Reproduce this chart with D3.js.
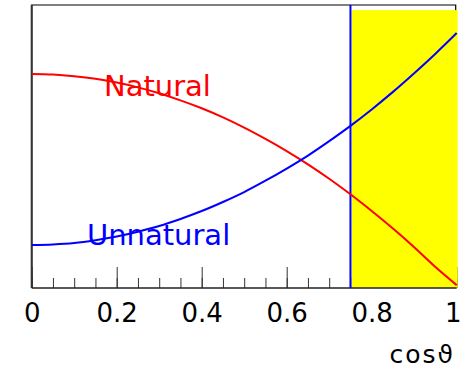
<!DOCTYPE html>
<html>
<head>
<meta charset="utf-8">
<script src="https://cdn.jsdelivr.net/npm/d3@7"></script>
<style>
    body { margin: 0; background: #fff; }
    svg { display: block; }
    text { font-family: "DejaVu Sans", sans-serif; }
</style>
</head>
<body>
<div id="chart"></div>
<script>
// cos(theta) sample points
let cosTheta = [0, 0.05, 0.1, 0.15, 0.2, 0.25, 0.3, 0.35, 0.4, 0.45, 0.5,
                0.55, 0.6, 0.65, 0.7, 0.75, 0.8, 0.85, 0.9, 0.95, 1.0];
// curves (arbitrary units)
let natural = [0.756, 0.754, 0.748, 0.739, 0.726, 0.709, 0.688, 0.663, 0.635, 0.603, 0.567,
               0.527, 0.484, 0.437, 0.386, 0.331, 0.272, 0.210, 0.144, 0.074, 0.010];
let unnatural = [0.152, 0.154, 0.159, 0.169, 0.182, 0.199, 0.219, 0.244, 0.272, 0.304, 0.339,
                 0.379, 0.422, 0.468, 0.519, 0.573, 0.631, 0.693, 0.759, 0.828, 0.901];
let majorTicks = [0, 0.2, 0.4, 0.6, 0.8, 1];
let minorTicks = d3.range(0, 21).map(i => i / 20);
let tickLabels = ['0', '0.2', '0.4', '0.6', '0.8', '1'];
let cutValue = 0.75;
let windowTop = 0.982;

let width = 463, height = 369;
let x = d3.scaleLinear().domain([0, 1]).range([31.7, 456.7]);
let y = d3.scaleLinear().domain([0, 1]).range([288, 5]);

let svg = d3.select('#chart').append('svg')
    .attr('width', width)
    .attr('height', height);

//frame top, left and right edges
svg.append('path')
    .attr('d', `M${x(0)},288V${y(1)}H${x(1) - 1}V${y(0)}`)
    .attr('fill', 'none')
    .attr('stroke', '#000')
    .attr('stroke-width', 1.2);
svg.append('line')
    .attr('x1', x(0)).attr('x2', x(0))
    .attr('y1', y(1)).attr('y2', y(0))
    .attr('stroke', '#333')
    .attr('stroke-width', 2);

//minor and major ticks, pointing inwards
let minorAxis = d3.axisBottom(x).tickValues(minorTicks).tickSize(-10).tickFormat('');
svg.append('g').attr('transform', `translate(0,${y(0)})`).call(minorAxis)
    .call(g => g.select('.domain').remove())
    .selectAll('line').attr('stroke', '#333');

let majorAxis = d3.axisBottom(x).tickValues(majorTicks).tickSize(-21).tickPadding(16)
    .tickFormat((d, i) => tickLabels[i]);
let axisG = svg.append('g').attr('transform', `translate(0,${y(0)})`).call(majorAxis);
axisG.select('.domain').remove();
axisG.selectAll('line').attr('stroke', '#333');
axisG.selectAll('text')
    .attr('font-size', 26)
    .attr('fill', '#000')
    .style('font-family', '"DejaVu Sans", sans-serif');
//keep the last label inside the page
axisG.selectAll('text').filter(d => d === 1).attr('dx', -4);

//selected region
svg.append('rect')
    .attr('x', x(cutValue) + 1)
    .attr('y', y(windowTop))
    .attr('width', x(1) - x(cutValue))
    .attr('height', y(0) - y(windowTop))
    .attr('fill', '#ffff00');

//axis line
svg.append('line')
    .attr('x1', x(0)).attr('x2', x(1))
    .attr('y1', y(0)).attr('y2', y(0))
    .attr('stroke', '#222')
    .attr('stroke-width', 1.5);

//cut line
svg.append('line')
    .attr('x1', x(cutValue)).attr('x2', x(cutValue))
    .attr('y1', y(1)).attr('y2', y(0))
    .attr('stroke', '#0000ff')
    .attr('stroke-width', 2);

let line = d3.line().x((d, i) => x(cosTheta[i])).y(d => y(d)).curve(d3.curveMonotoneX);

svg.append('path').datum(natural)
    .attr('d', line)
    .attr('fill', 'none')
    .attr('stroke', '#ff0000')
    .attr('stroke-width', 2);

svg.append('path').datum(unnatural)
    .attr('d', line)
    .attr('fill', 'none')
    .attr('stroke', '#0000ff')
    .attr('stroke-width', 2);

//curve labels
svg.append('text')
    .attr('x', x(0.17)).attr('y', y(0.678))
    .attr('font-size', 29)
    .attr('fill', '#ff0000')
    .text('Natural');

svg.append('text')
    .attr('x', x(0.13)).attr('y', y(0.152))
    .attr('font-size', 29)
    .attr('fill', '#0000ff')
    .text('Unnatural');

//axis title
svg.append('text')
    .attr('x', 455).attr('y', 363)
    .attr('text-anchor', 'end')
    .attr('font-size', 25)
    .attr('letter-spacing', 2)
    .attr('fill', '#000')
    .text('cosϑ');
</script>
</body>
</html>
